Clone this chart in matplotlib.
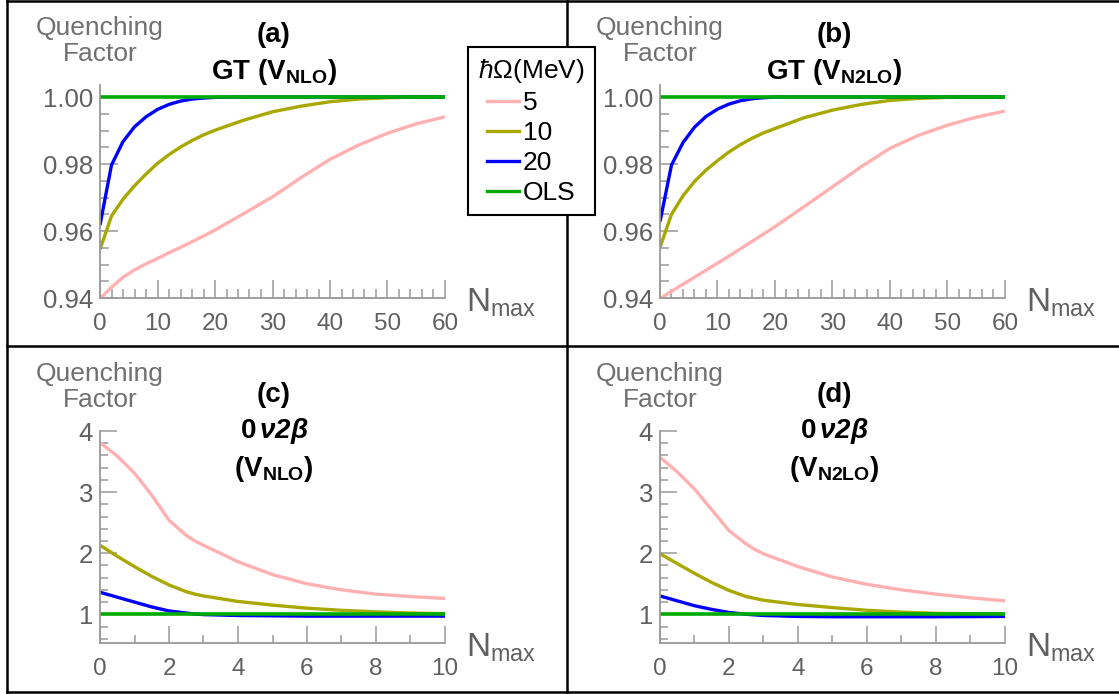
import matplotlib
matplotlib.use("Agg")
import matplotlib.pyplot as plt
from matplotlib.lines import Line2D
from matplotlib.ticker import MultipleLocator, FormatStrFormatter

plt.rcParams['font.family'] = ['Liberation Sans', 'DejaVu Sans']
plt.rcParams['mathtext.fontset'] = 'custom'
plt.rcParams['mathtext.rm'] = 'Liberation Sans'
plt.rcParams['mathtext.it'] = 'Liberation Sans:italic'
plt.rcParams['mathtext.bf'] = 'Liberation Sans:bold'
plt.rcParams['mathtext.bfit'] = 'Liberation Sans:italic:bold'

# ---- data ----
hw_labels = ['5', '10', '20', 'OLS']
colors = ['#ffb0b0', '#a8a800', '#0000ff', '#00aa00']

gt_n = [0, 2, 4, 6, 8, 10, 12, 14, 16, 18, 20, 25, 30, 35, 40, 45, 50, 55, 60]
gt_nlo_5 = [0.9398, 0.9432, 0.9462, 0.9484, 0.9502, 0.9518, 0.9535, 0.9551, 0.9568, 0.9585,
            0.9603, 0.9652, 0.9702, 0.9760, 0.9814, 0.9857, 0.9892, 0.9920, 0.9941]
gt_nlo_10 = [0.9545, 0.9645, 0.9695, 0.9735, 0.9770, 0.9802, 0.9828, 0.9851, 0.9870, 0.9887,
             0.9901, 0.9931, 0.9956, 0.9973, 0.9986, 0.9994, 0.9998, 1.0, 1.0]
gt_nlo_20 = [0.9618, 0.9797, 0.9867, 0.9911, 0.9941, 0.9963, 0.9978, 0.9988, 0.9994, 0.9997,
             0.9999, 1.0, 1.0, 1.0, 1.0, 1.0, 1.0, 1.0, 1.0]
gt_n2lo_5 = [0.9398, 0.9420, 0.9441, 0.9462, 0.9483, 0.9504, 0.9525, 0.9547, 0.9569, 0.9591,
             0.9613, 0.9672, 0.9732, 0.9792, 0.9847, 0.9886, 0.9916, 0.9940, 0.9958]
gt_n2lo_10 = [0.9551, 0.9650, 0.9705, 0.9748, 0.9782, 0.9810, 0.9836, 0.9858, 0.9877, 0.9893,
              0.9906, 0.9938, 0.9961, 0.9978, 0.9990, 0.9996, 0.9999, 1.0, 1.0]
gt_n2lo_20 = [0.9628, 0.9797, 0.9864, 0.9910, 0.9942, 0.9964, 0.9979, 0.9989, 0.9995, 0.9998,
              1.0, 1.0, 1.0, 1.0, 1.0, 1.0, 1.0, 1.0, 1.0]
gt_ols_n = [0, 60]
gt_ols = [1.0, 1.0]

bb_n = [0, 0.5, 1, 1.5, 2, 2.5, 2.75, 3, 4, 5, 6, 7, 8, 9, 10]
bb_nlo_5 = [3.81, 3.59, 3.31, 2.95, 2.54, 2.29, 2.20, 2.13, 1.86, 1.65, 1.50, 1.40, 1.33, 1.29, 1.26]
bb_nlo_10 = [2.13, 1.95, 1.78, 1.62, 1.48, 1.37, 1.33, 1.30, 1.21, 1.15, 1.10, 1.065, 1.04, 1.02, 1.01]
bb_nlo_20 = [1.36, 1.28, 1.20, 1.12, 1.055, 1.02, 1.005, 0.995, 0.98, 0.975, 0.97, 0.97, 0.97, 0.97, 0.97]
bb_n2lo_5 = [3.57, 3.33, 3.05, 2.71, 2.37, 2.15, 2.06, 1.99, 1.78, 1.61, 1.49, 1.40, 1.33, 1.27, 1.22]
bb_n2lo_10 = [1.99, 1.83, 1.67, 1.52, 1.39, 1.29, 1.26, 1.23, 1.16, 1.11, 1.065, 1.035, 1.015, 1.008, 1.005]
bb_n2lo_20 = [1.30, 1.22, 1.14, 1.08, 1.03, 1.0, 0.99, 0.98, 0.965, 0.96, 0.96, 0.96, 0.96, 0.962, 0.965]
bb_ols_n = [0, 10]
bb_ols = [1.0, 1.0]

W, H = 1119, 694
fig = plt.figure(figsize=(W / 100, H / 100), dpi=100)

gray = '#999999'
txtgray = '#606060'


def make_ax(left, top, right, bottom):
    ax = fig.add_axes([left / W, 1 - bottom / H, (right - left) / W, (bottom - top) / H])
    for s in ['top', 'right']:
        ax.spines[s].set_visible(False)
    for s in ['left', 'bottom']:
        ax.spines[s].set_color(gray)
        ax.spines[s].set_linewidth(1.3)
    ax.patch.set_alpha(0)
    return ax


def panel(ax, letter, title, xs, ys, xo, yo, gt):
    for x, y, c in zip(xs, ys, colors):
        lw = 2.6 if c == '#00aa00' else 2.4
        ax.plot(x, y, color=c, lw=lw, solid_capstyle='butt')
    if gt:
        ax.set_xlim(0, 60)
        ax.set_ylim(0.94, 1.0036)
        ax.xaxis.set_major_locator(MultipleLocator(10))
        ax.xaxis.set_minor_locator(MultipleLocator(2))
        ax.yaxis.set_major_locator(MultipleLocator(0.02))
        ax.yaxis.set_minor_locator(MultipleLocator(0.005))
        ax.yaxis.set_major_formatter(FormatStrFormatter('%.2f'))
        ax.tick_params(which='major', length=13)
        ax.tick_params(which='minor', length=6.5)
        ty = [yo + 35, yo + 72]
    else:
        ax.set_xlim(0, 10)
        ax.set_ylim(0.53, 4)
        ax.xaxis.set_major_locator(MultipleLocator(2))
        ax.xaxis.set_minor_locator(MultipleLocator(1))
        ax.yaxis.set_major_locator(MultipleLocator(1))
        ax.yaxis.set_minor_locator(MultipleLocator(0.2))
        ax.tick_params(which='major', length=12)
        ax.tick_params(which='minor', length=5.5)
        ty = [yo + 49, yo + 85, yo + 123]
    ax.tick_params(which='both', direction='in', color=gray, width=1.1)
    ax.tick_params(axis='x', labelsize=17.5, labelcolor=txtgray, pad=11)
    ax.tick_params(axis='y', labelsize=18.5, labelcolor=txtgray, pad=5)

    ax.text(1.061, -0.066, r'$\mathregular{N_{max}}$', transform=ax.transAxes,
            fontsize=24, color=txtgray, ha='left', va='baseline')
    fig.text((xo + 100) / W, 1 - (yo + 16) / H, 'Quenching\nFactor', ha='center', va='top',
             fontsize=19, color='#707070', linespacing=1.08)
    cx = (xo + 274) / W
    for t, y in zip([letter] + title, ty):
        fig.text(cx, 1 - y / H, t, ha='center', va='center',
                 fontsize=20, fontweight='bold')


ax_a = make_ax(100, 85, 445, 298)
panel(ax_a, '(a)', [r'GT (V$_\mathbf{NLO}$)'],
      [gt_n, gt_n, gt_n, gt_ols_n], [gt_nlo_5, gt_nlo_10, gt_nlo_20, gt_ols], 0, 0, True)

ax_b = make_ax(660, 85, 1005, 298)
panel(ax_b, '(b)', [r'GT (V$_\mathbf{N2LO}$)'],
      [gt_n, gt_n, gt_n, gt_ols_n], [gt_n2lo_5, gt_n2lo_10, gt_n2lo_20, gt_ols], 560, 0, True)

ax_c = make_ax(100, 431, 445, 643)
panel(ax_c, '(c)', [r'$\mathbf{0}\,\mathbfit{\nu 2\beta}$', r'(V$_\mathbf{NLO}$)'],
      [bb_n, bb_n, bb_n, bb_ols_n], [bb_nlo_5, bb_nlo_10, bb_nlo_20, bb_ols], 0, 346, False)

ax_d = make_ax(660, 431, 1005, 643)
panel(ax_d, '(d)', [r'$\mathbf{0}\,\mathbfit{\nu 2\beta}$', r'(V$_\mathbf{N2LO}$)'],
      [bb_n, bb_n, bb_n, bb_ols_n], [bb_n2lo_5, bb_n2lo_10, bb_n2lo_20, bb_ols], 560, 346, False)

# legend
handles = [Line2D([], [], color=c, lw=2.4) for c in colors]
leg = fig.legend(handles, hw_labels, title=r'$\hbar\Omega$(MeV)', loc='upper left',
                 bbox_to_anchor=(468 / W, 1 - 47 / H), bbox_transform=fig.transFigure,
                 borderaxespad=0, fontsize=19, title_fontsize=19, frameon=True,
                 fancybox=False, edgecolor='black', framealpha=1, borderpad=0.38,
                 labelspacing=0.23, handlelength=1.2, handletextpad=0.15)
leg.get_frame().set_linewidth(1.5)

# panel borders
for (x0, y0, x1, y1) in [(7, 1, 1119, 1), (7, 692, 1119, 692), (7, 1, 7, 692),
                         (567, 1, 567, 692), (7, 346, 1119, 346)]:
    fig.add_artist(Line2D([x0 / W, x1 / W], [1 - y0 / H, 1 - y1 / H], color='black',
                          lw=1.8, transform=fig.transFigure))

fig.savefig('out.png', dpi=100)
